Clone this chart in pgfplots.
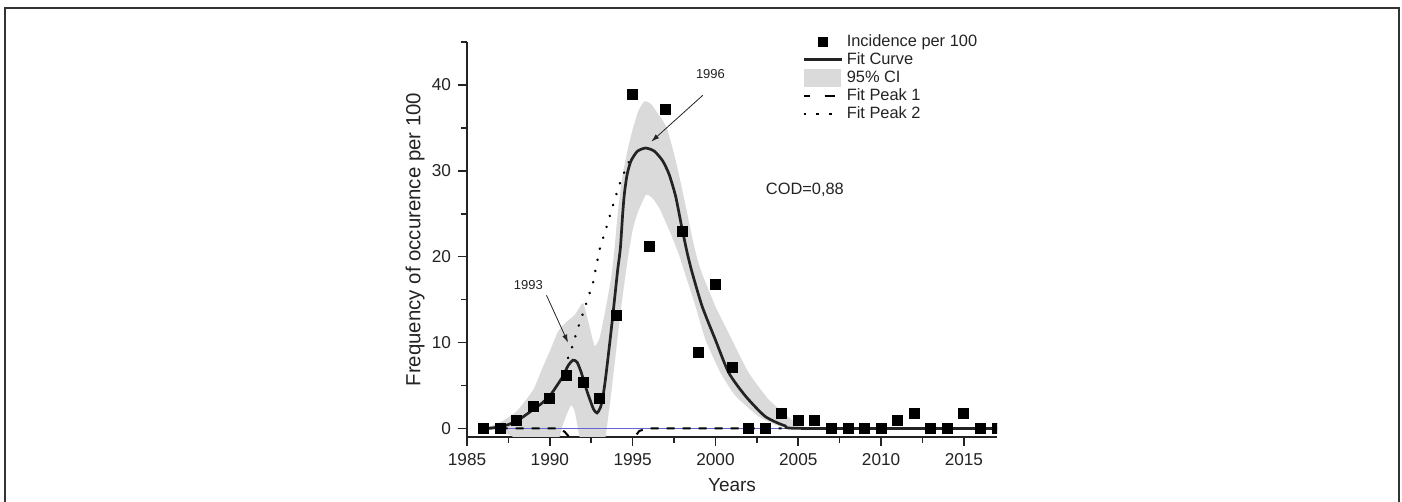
\documentclass[border=0pt]{standalone}
\usepackage{fontspec}
\setmainfont{Liberation Sans}
\usepackage{pgfplots}
\pgfplotsset{compat=1.18}
\usetikzlibrary{arrows.meta}
\definecolor{cigray}{RGB}{218,218,218}
\definecolor{txt}{RGB}{35,35,35}
\definecolor{baseblue}{RGB}{100,100,210}
\pgfplotsset{
  lineleg/.style={legend image code/.code={\draw[mark repeat=2,mark phase=2,##1] plot coordinates {(0cm,0cm) (0.34cm,0cm) (0.68cm,0cm)};}},
  boxleg/.style={legend image code/.code={\fill[##1] (0cm,-0.15cm) rectangle (0.66cm,0.15cm);}},
}
\begin{document}
\begin{tikzpicture}
\useasboundingbox (0pt,0pt) rectangle (701pt,251pt);
\draw[line width=0.9pt, black!80] (2.5pt,-2pt) -- (2.5pt,247pt) -- (699.5pt,247pt) -- (699.5pt,-2pt);
\begin{axis}[
    at={(233.5pt,32.5pt)}, anchor=south west,
    scale only axis, width=265pt, height=197.5pt,
    xmin=1985, xmax=2017, ymin=-1, ymax=45,
    axis lines=left, axis line style={-, line width=0.9pt, txt},
    tick align=outside,
    major tick length=4.5pt, minor tick length=2.8pt,
    tick style={line width=0.8pt, txt},
    xtick={1985,1990,...,2015}, minor xtick={1987.5,1992.5,...,2017.5},
    ytick={0,10,...,40}, minor ytick={5,15,...,45},
    /pgf/number format/1000 sep={},
    /pgf/number format/assume math mode=true,
    tick label style={font=\fontsize{8.6}{10}\selectfont, text=txt},
    xlabel={Years}, ylabel={Frequency of occurence per 100},
    xlabel style={font=\fontsize{9.5}{11}\selectfont, text=txt, at={(axis description cs:0.5,-0.1215)}, anchor=center},
    ylabel style={font=\fontsize{10.2}{12}\selectfont, text=txt, at={(axis description cs:-0.098,0.5)}, anchor=center},
    clip marker paths=true,
    legend style={at={(0.632,1.025)}, anchor=north west, draw=none, fill=none,
      font=\fontsize{8.2}{9}\selectfont, text=txt, inner sep=0pt, row sep=0pt, column sep=1pt,
      nodes={inner sep=0.5pt, text height=6.3pt, text depth=1.8pt}},
    legend cell align=left,
  ]
  % 95% confidence band: upper bound left to right, lower bound right to left
  \addplot[fill=cigray, draw=none, smooth, tension=0.3, forget plot] coordinates {
    (1986,0) (1987,0.7) (1988,2.0) (1989,4.5) (1989.5,6.8) (1990,9.0) (1990.5,11.3)
    (1991,12.4) (1991.5,13.2) (1992,14.6) (1992.3,12.6) (1992.7,9.6) (1993.0,10.5)
    (1993.2,12.3) (1993.4,14.2) (1993.7,17.5) (1993.9,20.8) (1994.1,25) (1994.35,29)
    (1994.7,32.5) (1995.0,34.8) (1995.35,37) (1995.72,38.1) (1996.1,37.8) (1996.4,37)
    (1996.8,35.9) (1997.1,34.8) (1997.55,31.6) (1997.95,28.2) (1998.3,25) (1998.62,22)
    (1998.92,19.65) (1999.2,18.0) (2000,14.2) (2001,10.3) (2002,6.5) (2003.2,3.4)
    (2004.6,1) (2005.3,0.2) (2006,0)
    (2005,0.05) (2003.8,0.3) (2002.6,1.4) (2001.2,3.8) (2000.3,6.5) (1999.4,10.3)
    (1998.8,14.2) (1998.2,17.8) (1997.8,20.2) (1997.4,22.2) (1997.0,24.0) (1996.6,25.7)
    (1996.2,26.8) (1995.8,27.2) (1995.3,25.1) (1995.0,23.1) (1994.7,19.65) (1994.3,14)
    (1994.0,9) (1993.7,4) (1993.5,1) (1993.3,-2) (1993.0,-5) (1992.5,-6) (1992.0,-3)
    (1991.7,0) (1991.5,2) (1991.3,2.7) (1991.1,2) (1990.8,0.5) (1990.5,-1.5) (1990,-3)
    (1989,-2.5) (1988,-1.2) (1987,-0.3) (1986,0)
  };
  % baseline
  \addplot[baseblue, line width=0.4pt, forget plot] coordinates {(1986,0) (2004.5,0)};
  % fit peak 1
  \addplot[black, line width=1pt, dash pattern=on 4pt off 4pt, forget plot] coordinates {
    (1986,0) (1990.5,0) (1990.9,-0.4) (1991.3,-1.3) (1995.0,-1.3) (1995.4,-0.3) (1995.9,0) (2004,0)
  };
  % fit peak 2
  \addplot[black, line width=1.3pt, line cap=round, dash pattern=on 0.1pt off 5.6pt, forget plot] coordinates {
    (1991.1,8.2) (1991.3,9.2) (1991.7,11.7) (1992.0,13.4) (1992.6,16.9) (1993.0,20.8)
    (1993.4,23.3) (1993.8,25.9) (1994.2,28.4) (1994.7,30.8) (1995.1,32.0)
  };
  % fit curve
  \addplot[txt, line width=1.35pt, smooth, tension=0.4, forget plot] coordinates {
    (1986,0) (1986.5,0.05) (1987,0.2) (1987.5,0.45) (1988,0.85) (1988.5,1.5) (1989,2.2)
    (1989.5,2.9) (1990,3.8) (1990.4,4.9) (1990.8,6.1) (1991.1,7.3) (1991.4,7.95)
    (1991.65,7.7) (1991.9,6.5) (1992.2,4.6) (1992.45,3.2) (1992.65,2.2) (1992.85,1.8)
    (1993.05,2.4) (1993.2,3.6) (1993.35,5.6) (1993.5,8.0) (1993.65,10.5) (1993.8,13.1)
    (1993.95,15.8) (1994.1,18.5) (1994.26,21) (1994.4,25) (1994.5,27.3) (1994.66,29.5)
    (1994.85,30.9) (1995.0,31.5) (1995.3,32.3) (1995.78,32.65) (1996.3,32.3) (1996.8,31.2)
    (1997.2,29.6) (1997.6,27.0) (1997.95,23.6) (1998.3,20.4) (1998.6,18.1) (1999.2,14.2)
    (2000,10.3) (2000.8,6.5) (2001.8,3.8) (2003,1.4) (2004.2,0.3) (2005.2,0) (2017,0)
  };
  % incidence per 100
  \addplot[only marks, mark=square*, mark size=2.5pt, black, forget plot] coordinates {
    (1986,0) (1987,0) (1988,0.9) (1989,2.6) (1990,3.5) (1991,6.2) (1992,5.3) (1993,3.5)
    (1994,13.2) (1995,38.9) (1996,21.2) (1997,37.2) (1998,23) (1999,8.8) (2000,16.8)
    (2001,7.1) (2002,0) (2003,0) (2004,1.8) (2005,0.9) (2006,0.9) (2007,0) (2008,0)
    (2009,0) (2010,0) (2011,0.9) (2012,1.8) (2013,0) (2014,0) (2015,1.8) (2016,0) (2017,0)
  };
  \addlegendimage{lineleg, only marks, mark=square*, mark size=2.3pt, black}
  \addlegendentry{Incidence per 100}
  \addlegendimage{lineleg, txt, line width=1.35pt}
  \addlegendentry{Fit Curve}
  \addlegendimage{boxleg, draw=none, fill=cigray}
  \addlegendentry{95\% CI}
  \addlegendimage{lineleg, black, line width=1pt, dash pattern=on 3pt off 7.5pt on 5pt off 10pt}
  \addlegendentry{Fit Peak 1}
  \addlegendimage{lineleg, black, line width=1pt, dash pattern=on 1.3pt off 5pt on 1.3pt off 5pt on 1.3pt off 10pt}
  \addlegendentry{Fit Peak 2}
  % annotations
  \node[font=\fontsize{6.5}{8}\selectfont, text=txt] at (axis cs:1988.7,16.7) {1993};
  \draw[-{Latex[length=4pt,width=2.6pt]}, line width=0.4pt, txt] (axis cs:1989.8,15.5) -- (axis cs:1991.1,10.0);
  \node[font=\fontsize{6.5}{8}\selectfont, text=txt] at (axis cs:1999.7,41.3) {1996};
  \draw[-{Latex[length=4pt,width=2.6pt]}, line width=0.4pt, txt] (axis cs:1999.24,38.8) -- (axis cs:1996.13,33.4);
  \node[font=\fontsize{8.2}{10}\selectfont, text=txt] at (axis cs:2005.4,27.8) {COD=0,88};
\end{axis}
\end{tikzpicture}
\end{document}
